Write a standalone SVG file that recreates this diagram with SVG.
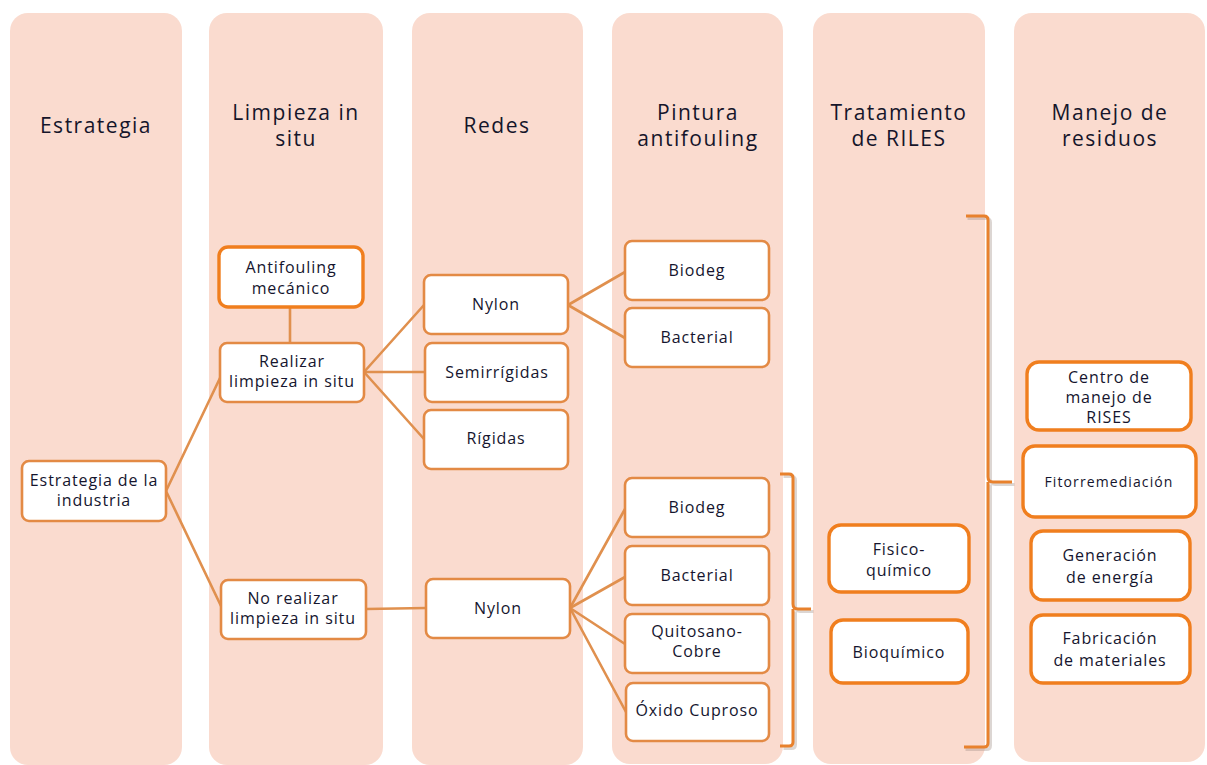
<svg xmlns="http://www.w3.org/2000/svg" width="1207" height="765" viewBox="0 0 1207 765">
<style>
.col{fill:#FADBCF}
.hd{font-family:"Open Sans","Liberation Sans",sans-serif;font-size:21px;font-weight:500;fill:#15152A;text-anchor:middle;letter-spacing:1.5px}
.nd{fill:#FFFFFF;stroke:#E38A45;stroke-width:2.6}
.nt{fill:#FFFFFF;stroke:#F07E1E;stroke-width:3.4}
.tx{font-family:"Open Sans","Liberation Sans",sans-serif;font-size:16px;font-weight:500;fill:#15152E;text-anchor:middle;letter-spacing:0.9px}
.sm{font-size:14px;letter-spacing:1.1px}
.cn{fill:none;stroke:#E0904E;stroke-width:2.6;stroke-linecap:round}
.br{fill:none;stroke:#E8812D;stroke-width:3}
.bs{fill:none;stroke:#9A8A80;stroke-width:3;opacity:0.35}
</style>
<rect width="1207" height="765" fill="#FFFFFF"/>
<g id="columns">
<rect class="col" x="10" y="13" width="172" height="752" rx="18"/>
<rect class="col" x="209" y="13" width="174" height="752" rx="18"/>
<rect class="col" x="412" y="13" width="171" height="752" rx="18"/>
<rect class="col" x="612" y="13" width="171" height="751" rx="18"/>
<rect class="col" x="813" y="13" width="172" height="751" rx="18"/>
<rect class="col" x="1014" y="13" width="191" height="749" rx="18"/>
<text class="hd" x="96" y="133">Estrategia</text>
<text class="hd" x="296" y="120">Limpieza in</text>
<text class="hd" x="296" y="146">situ</text>
<text class="hd" x="497" y="133">Redes</text>
<text class="hd" x="698" y="120">Pintura</text>
<text class="hd" x="698" y="146">antifouling</text>
<text class="hd" x="899" y="120">Tratamiento</text>
<text class="hd" x="899" y="146">de RILES</text>
<text class="hd" x="1110" y="120">Manejo de</text>
<text class="hd" x="1110" y="146">residuos</text>
</g>
<g id="connectors">
<line class="cn" x1="166" y1="491" x2="220" y2="378"/>
<line class="cn" x1="166" y1="491" x2="221" y2="606"/>
<line class="cn" x1="290" y1="307" x2="290" y2="343"/>
<line class="cn" x1="364" y1="372" x2="424" y2="305"/>
<line class="cn" x1="364" y1="372" x2="425" y2="372"/>
<line class="cn" x1="364" y1="372" x2="424" y2="439"/>
<line class="cn" x1="366" y1="609" x2="426" y2="608"/>
<line class="cn" x1="568" y1="305" x2="625" y2="272"/>
<line class="cn" x1="568" y1="305" x2="625" y2="338"/>
<line class="cn" x1="570" y1="608" x2="625" y2="509"/>
<line class="cn" x1="570" y1="608" x2="625" y2="577"/>
<line class="cn" x1="570" y1="608" x2="625" y2="644"/>
<line class="cn" x1="570" y1="608" x2="626" y2="712"/>
<path class="bs" d="M782 475 H790 Q794 475 794 479 V605 Q794 610 799 610 H812 M794 610 V743 Q794 747 790 747 H782" transform="translate(1.5,1.5)"/>
<path class="br" d="M780 474 H789 Q793 474 793 478 V604 Q793 609 798 609 H811 M793 609 V742 Q793 746 789 746 H780"/>
<path class="bs" d="M966 217 H985 Q989 217 989 221 V478 Q989 483 994 483 H1013 M989 483 V744 Q989 748 985 748 H964" transform="translate(1.5,1.5)"/>
<path class="br" d="M966 216 H984 Q988 216 988 220 V477 Q988 482 993 482 H1012 M988 482 V743 Q988 747 984 747 H964"/>
</g>
<g id="n-estrategia"><rect class="nd" x="22" y="461" width="144" height="60" rx="7"/><text class="tx" x="94" y="486">Estrategia de la</text><text class="tx" x="94" y="506">industria</text></g>
<g id="n-antifouling"><rect class="nt" x="219" y="247" width="144" height="60" rx="9"/><text class="tx" x="291" y="273">Antifouling</text><text class="tx" x="291" y="294">mecánico</text></g>
<g id="n-realizar"><rect class="nd" x="220" y="343" width="144" height="59" rx="7"/><text class="tx" x="292" y="367">Realizar</text><text class="tx" x="292" y="387">limpieza in situ</text></g>
<g id="n-norealizar"><rect class="nd" x="221" y="580" width="145" height="59" rx="7"/><text class="tx" x="293" y="604">No realizar</text><text class="tx" x="293" y="624">limpieza in situ</text></g>
<g id="n-nylon1"><rect class="nd" x="424" y="275" width="144" height="59" rx="7"/><text class="tx" x="496" y="310">Nylon</text></g>
<g id="n-semirrigidas"><rect class="nd" x="425" y="343" width="143" height="59" rx="7"/><text class="tx" x="497" y="378">Semirrígidas</text></g>
<g id="n-rigidas"><rect class="nd" x="424" y="410" width="144" height="59" rx="7"/><text class="tx" x="496" y="444">Rígidas</text></g>
<g id="n-nylon2"><rect class="nd" x="426" y="579" width="144" height="59" rx="7"/><text class="tx" x="498" y="614">Nylon</text></g>
<g id="n-biodeg1"><rect class="nd" x="625" y="241" width="144" height="59" rx="7"/><text class="tx" x="697" y="276">Biodeg</text></g>
<g id="n-bacterial1"><rect class="nd" x="625" y="308" width="144" height="59" rx="7"/><text class="tx" x="697" y="343">Bacterial</text></g>
<g id="n-biodeg2"><rect class="nd" x="625" y="478" width="144" height="59" rx="7"/><text class="tx" x="697" y="513">Biodeg</text></g>
<g id="n-bacterial2"><rect class="nd" x="625" y="546" width="144" height="59" rx="7"/><text class="tx" x="697" y="581">Bacterial</text></g>
<g id="n-quitosano"><rect class="nd" x="625" y="614" width="144" height="59" rx="7"/><text class="tx" x="697" y="637">Quitosano-</text><text class="tx" x="697" y="657">Cobre</text></g>
<g id="n-oxido"><rect class="nd" x="626" y="683" width="143" height="58" rx="7"/><text class="tx" x="697" y="716">Óxido Cuproso</text></g>
<g id="n-fisico"><rect class="nt" x="829" y="525" width="140" height="67" rx="12"/><text class="tx" x="899" y="555">Fisico-</text><text class="tx" x="899" y="576">químico</text></g>
<g id="n-bioquimico"><rect class="nt" x="831" y="620" width="137" height="63" rx="12"/><text class="tx" x="899" y="658">Bioquímico</text></g>
<g id="n-centro"><rect class="nt" x="1027" y="362" width="164" height="68" rx="12"/><text class="tx" x="1109" y="383">Centro de</text><text class="tx" x="1109" y="403">manejo de</text><text class="tx" x="1109" y="423">RISES</text></g>
<g id="n-fitorremediacion"><rect class="nt" x="1023" y="446" width="173" height="71" rx="12"/><text class="tx sm" x="1109" y="487">Fitorremediación</text></g>
<g id="n-generacion"><rect class="nt" x="1031" y="531" width="159" height="69" rx="12"/><text class="tx" x="1110" y="561">Generación</text><text class="tx" x="1110" y="583">de energía</text></g>
<g id="n-fabricacion"><rect class="nt" x="1031" y="615" width="159" height="68" rx="12"/><text class="tx" x="1110" y="644">Fabricación</text><text class="tx" x="1110" y="666">de materiales</text></g>
</svg>
